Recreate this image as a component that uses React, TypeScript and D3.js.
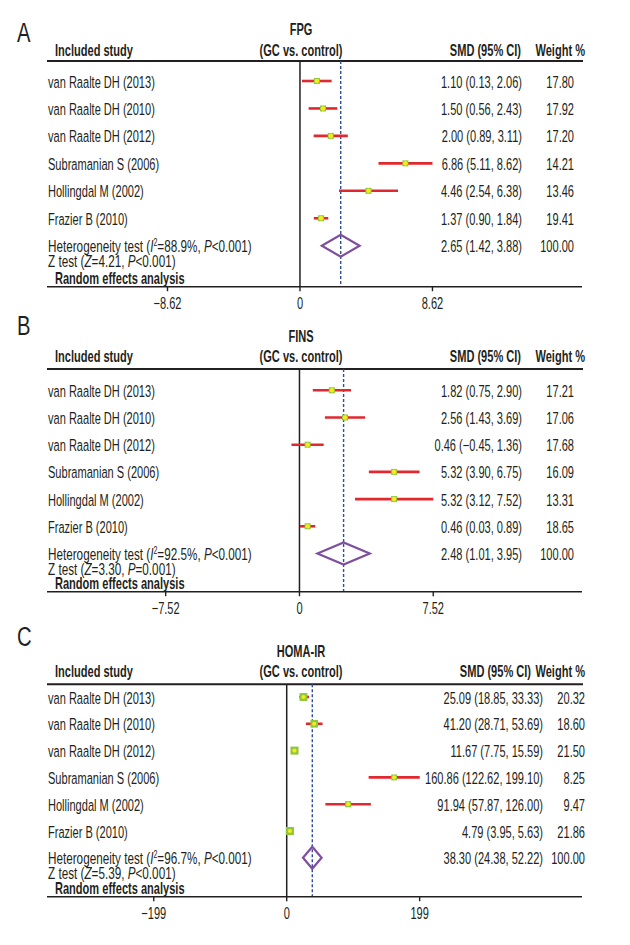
import React from "react";
import * as d3 from "d3";

// ---------------- DATA ----------------
const studies = [
  "van Raalte DH (2013)",
  "van Raalte DH (2010)",
  "van Raalte DH (2012)",
  "Subramanian S (2006)",
  "Hollingdal M (2002)",
  "Frazier B (2010)",
];

const panelLetters = ["A", "B", "C"];
const outcomes = ["FPG", "FINS", "HOMA-IR"];

const fpgSmd = [1.1, 1.5, 2.0, 6.86, 4.46, 1.37];
const fpgLow = [0.13, 0.56, 0.89, 5.11, 2.54, 0.9];
const fpgHigh = [2.06, 2.43, 3.11, 8.62, 6.38, 1.84];
const fpgWeight = [17.8, 17.92, 17.2, 14.21, 13.46, 19.41];

const finsSmd = [1.82, 2.56, 0.46, 5.32, 5.32, 0.46];
const finsLow = [0.75, 1.43, -0.45, 3.9, 3.12, 0.03];
const finsHigh = [2.9, 3.69, 1.36, 6.75, 7.52, 0.89];
const finsWeight = [17.21, 17.06, 17.68, 16.09, 13.31, 18.65];

const homaSmd = [25.09, 41.2, 11.67, 160.86, 91.94, 4.79];
const homaLow = [18.85, 28.71, 7.75, 122.62, 57.87, 3.95];
const homaHigh = [33.33, 53.69, 15.59, 199.1, 126.0, 5.63];
const homaWeight = [20.32, 18.6, 21.5, 8.25, 9.47, 21.86];

const pooledSmd = [2.65, 2.48, 38.3];
const pooledLow = [1.42, 1.01, 24.38];
const pooledHigh = [3.88, 3.95, 52.22];
const pooledWeight = [100.0, 100.0, 100.0];

const hetI2 = ["88.9%", "92.5%", "96.7%"];
const hetP = ["<0.001", "<0.001", "<0.001"];
const zValue = ["4.21", "3.30", "5.39"];
const zP = ["<0.001", "=0.001", "<0.001"];

const tickMax = [8.62, 7.52, 199];
const axisMin = [-16.46, -14.19, -358.8];
const axisMax = [18.35, 15.88, 442];

const smdSeries = [fpgSmd, finsSmd, homaSmd];
const lowSeries = [fpgLow, finsLow, homaLow];
const highSeries = [fpgHigh, finsHigh, homaHigh];
const weightSeries = [fpgWeight, finsWeight, homaWeight];

// ---------------- LAYOUT / STYLE ----------------
const layouts = [
  { tl: 61, row0: 81, step: 27.45, axisY: 286.7, titleY: 35, headerY: 56, labelY: 42, smdRight: 522, smdHead: 521, wRight: 574, boxBase: 6, boxK: 0, dotR: 2.3 },
  { tl: 369, row0: 390.3, step: 27.2, axisY: 591.7, titleY: 341.7, headerY: 362, labelY: 335, smdRight: 522, smdHead: 521, wRight: 574, boxBase: 6, boxK: 0, dotR: 2.3 },
  { tl: 684.3, row0: 697, step: 26.8, axisY: 896.7, titleY: 656.7, headerY: 677, labelY: 646, smdRight: 543, smdHead: 531, wRight: 585, boxBase: 4.6, boxK: 0.16, dotR: 2.1 },
];

const FONT = '"Liberation Sans", Arial, sans-serif';
const SX = 0.67;
const FS = 16.5;
const INK = "#231f20";
const RED = "#e0282e";
const GREEN = "#8dc63f";
const YELLOW = "#f4ec1a";
const PURPLE = "#7f4f9f";
const BLUE = "#2e4d9e";
const X_LEFT = 47;
const X_RIGHT = 582;

const fmt = (v: number) => (v < 0 ? "\u2212" + Math.abs(v).toFixed(2) : v.toFixed(2));
const fmtTick = (v: number) => (v === 0 ? "0" : (v < 0 ? "\u2212" : "") + Math.abs(v));

function T({ x, y, anchor = "start", bold = false, size = FS, sx = SX, children }: any) {
  return (
    <text
      transform={`translate(${x},${y}) scale(${sx},1)`}
      textAnchor={anchor}
      fontFamily={FONT}
      fontSize={size}
      fontWeight={bold ? "bold" : "normal"}
      fill={INK}
    >
      {children}
    </text>
  );
}

function Panel({ i }: { i: number }) {
  const L = layouts[i];
  const x = d3.scaleLinear().domain([axisMin[i], axisMax[i]]).range([X_LEFT, X_RIGHT]);
  const y = (k: number) => L.row0 + k * L.step;
  const smd = smdSeries[i];
  const low = lowSeries[i];
  const high = highSeries[i];
  const w = weightSeries[i];
  const poolY = y(studies.length);
  const ticks = [-tickMax[i], 0, tickMax[i]];
  const dh = 11;
  const diamond = d3.line()([
    [x(pooledLow[i]), poolY],
    [x(pooledSmd[i]), poolY - dh],
    [x(pooledHigh[i]), poolY],
    [x(pooledSmd[i]), poolY + dh],
  ]) + "Z";

  return (
    <g>
      <T x={17} y={L.labelY} size={27} sx={0.75}>{panelLetters[i]}</T>
      <T x={301} y={L.titleY} anchor="middle" bold>{outcomes[i]}</T>
      <T x={55} y={L.headerY} bold>Included study</T>
      <T x={301} y={L.headerY} anchor="middle" bold>(GC vs. control)</T>
      <T x={L.smdHead} y={L.headerY} anchor="end" bold>SMD (95% CI)</T>
      <T x={585} y={L.headerY} anchor="end" bold>Weight %</T>

      <line x1={X_LEFT} x2={583} y1={L.tl} y2={L.tl} stroke={INK} strokeWidth={2} />

      {/* pooled dashed line */}
      <line x1={x(pooledSmd[i])} x2={x(pooledSmd[i])} y1={L.tl} y2={L.axisY} stroke={BLUE} strokeWidth={1.4} strokeDasharray="3,2" />
      {/* zero line */}
      <line x1={x(0)} x2={x(0)} y1={L.tl} y2={L.axisY} stroke={INK} strokeWidth={1.5} />

      {studies.map((s, k) => {
        const bs = L.boxBase + L.boxK * w[k];
        return (
          <g key={s}>
            <line x1={x(low[k])} x2={x(high[k])} y1={y(k)} y2={y(k)} stroke={RED} strokeWidth={2.6} />
            <rect x={x(smd[k]) - bs / 2} y={y(k) - bs / 2} width={bs} height={bs} fill={GREEN} />
            <circle cx={x(smd[k])} cy={y(k)} r={L.dotR} fill={YELLOW} />
            <T x={48} y={y(k) + 6.5}>{s}</T>
            <T x={L.smdRight} y={y(k) + 6.5} anchor="end">{`${fmt(smd[k])} (${fmt(low[k])}, ${fmt(high[k])})`}</T>
            <T x={L.wRight} y={y(k) + 6.5} anchor="end">{w[k].toFixed(2)}</T>
          </g>
        );
      })}

      <path d={diamond} fill="none" stroke={PURPLE} strokeWidth={2.2} strokeLinejoin="miter" />
      <T x={48} y={poolY + 6.5} sx={0.71}>
        Heterogeneity test (<tspan fontStyle="italic">I</tspan>
        <tspan dy={-6} fontSize={10}>2</tspan>
        <tspan dy={6}>={hetI2[i]}, </tspan>
        <tspan fontStyle="italic">P</tspan>
        {hetP[i]})
      </T>
      <T x={L.smdRight} y={poolY + 6.5} anchor="end">{`${fmt(pooledSmd[i])} (${fmt(pooledLow[i])}, ${fmt(pooledHigh[i])})`}</T>
      <T x={L.wRight} y={poolY + 6.5} anchor="end">{pooledWeight[i].toFixed(2)}</T>
      <T x={48} y={poolY + 21} sx={0.71}>
        Z test (<tspan fontStyle="italic">Z</tspan>={zValue[i]}, <tspan fontStyle="italic">P</tspan>
        {zP[i]})
      </T>
      <T x={55} y={L.axisY - 3} bold>Random effects analysis</T>

      <line x1={X_LEFT} x2={X_RIGHT} y1={L.axisY} y2={L.axisY} stroke={INK} strokeWidth={1.6} />
      {ticks.map((t) => (
        <g key={t}>
          <line x1={x(t)} x2={x(t)} y1={L.axisY} y2={L.axisY + 4.5} stroke={INK} strokeWidth={1.4} />
          <T x={x(t)} y={L.axisY + 22} anchor="middle">{fmtTick(t)}</T>
        </g>
      ))}
    </g>
  );
}

export default function App() {
  return (
    <svg
      width={630}
      height={945}
      viewBox="0 0 630 945"
      style={{ position: "absolute", left: 0, top: 0, background: "#fff" }}
    >
      <rect x={0} y={0} width={630} height={945} fill="#fff" />
      {[0, 1, 2].map((i) => (
        <Panel key={i} i={i} />
      ))}
    </svg>
  );
}
